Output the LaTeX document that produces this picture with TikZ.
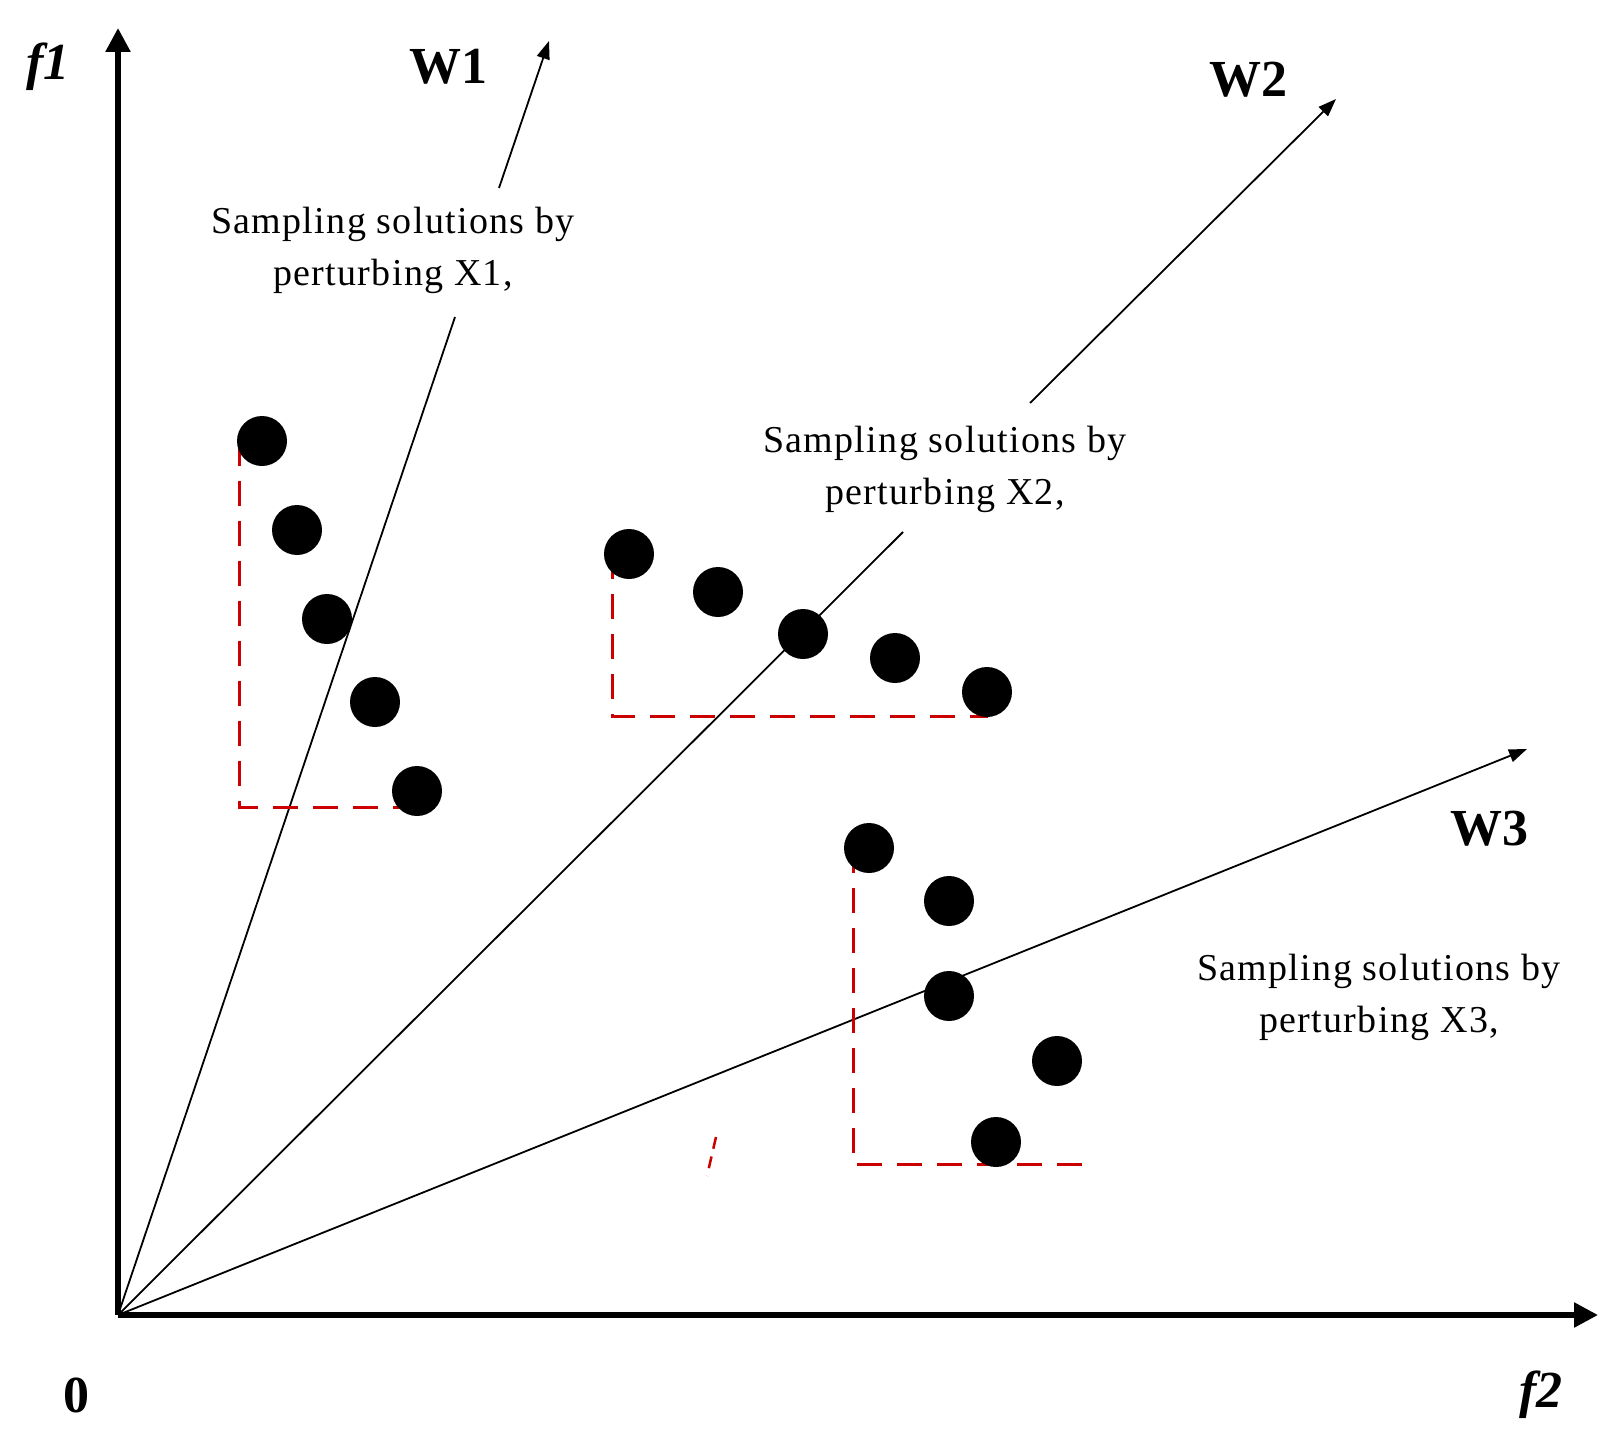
\documentclass[tikz,border=0pt]{standalone}
\usepackage{fontspec}
\setmainfont{Liberation Serif}
\newfontfamily\sampfont[LetterSpace=3.5]{Liberation Serif}
\usetikzlibrary{arrows.meta}
\tikzset{
  axisline/.style={line width=5.5pt, -{Triangle[length=24pt,width=24pt]}},
  wline/.style={line width=1.8pt},
  warrow/.style={line width=1.8pt, -{Triangle[length=18pt,width=13pt]}},
  dot/.style={circle, fill=black, minimum size=50pt, inner sep=0pt},
  reddash/.style={draw=red!80!black, line width=3pt, dash pattern=on 25pt off 15pt},
  biglabel/.style={font=\fontsize{52}{52}\selectfont\bfseries, inner sep=0pt},
  axlabel/.style={font=\fontsize{52}{52}\selectfont\bfseries\itshape, inner sep=0pt},
  sampletext/.style={font=\sampfont\fontsize{38}{52}\selectfont, align=center, inner sep=0pt}
}
\begin{document}
\begin{tikzpicture}[x=1pt,y=-1pt]
\useasboundingbox (0,0) rectangle (1614,1450);
% axes
\coordinate (O) at (118,1315);
\coordinate (f1tip) at (118,28);
\coordinate (f2tip) at (1598,1315);
\draw[axisline] (O) -- (f1tip);
\draw[axisline] (O) -- (f2tip);
\node[axlabel] (f1) at (48,67) {f1};
\node[axlabel] (f2) at (1541,1395) {f2};
\node[biglabel] (zero) at (76,1395) {0};
% direction vectors
\coordinate (w1a) at (455,317);
\coordinate (w1b) at (499,188);
\coordinate (w1tip) at (549,41);
\coordinate (w2a) at (903,532);
\coordinate (w2b) at (1030,403);
\coordinate (w2tip) at (1336,99);
\coordinate (w3tip) at (1527,749);
\draw[wline] (O) -- (w1a);
\draw[warrow] (w1b) -- (w1tip);
\draw[wline] (O) -- (w2a);
\draw[warrow] (w2b) -- (w2tip);
\draw[warrow] (O) -- (w3tip);
\node[biglabel] (W1) at (448,67) {W1};
\node[biglabel] (W2) at (1248,80) {W2};
\node[biglabel] (W3) at (1489,829) {W3};
% texts
\node[sampletext] (t1) at (393,250) {Sampling solutions by\\perturbing X1,};
\node[sampletext] (t2) at (945,469) {Sampling solutions by\\perturbing X2,};
\node[sampletext] (t3) at (1379,997) {Sampling solutions by\\perturbing X3,};
% red dashed corners
\coordinate (r1a) at (239,441);
\coordinate (r1b) at (239,807);
\coordinate (r1c) at (405,807);
\coordinate (r2a) at (612,554);
\coordinate (r2b) at (612,716);
\coordinate (r2c) at (988,716);
\coordinate (r3a) at (853,848);
\coordinate (r3b) at (853,1164);
\coordinate (r3c) at (1088,1164);
\coordinate (s1) at (716,1137);
\coordinate (s2) at (707,1176);
\draw[reddash] (r1a) -- (r1b) -- (r1c);
\draw[reddash] (r2a) -- (r2b) -- (r2c);
\draw[reddash] (r3a) -- (r3b) -- (r3c);
\draw[draw=red!80!black, line width=2.5pt, dash pattern=on 12pt off 8pt] (s1) -- (s2);
% dots
\node[dot] (a1) at (262,441) {};
\node[dot] (a2) at (297,530) {};
\node[dot] (a3) at (327,619) {};
\node[dot] (a4) at (375,702) {};
\node[dot] (a5) at (417,791) {};
\node[dot] (b1) at (629,554) {};
\node[dot] (b2) at (718,592) {};
\node[dot] (b3) at (803,634) {};
\node[dot] (b4) at (895,658) {};
\node[dot] (b5) at (987,692) {};
\node[dot] (c1) at (869,848) {};
\node[dot] (c2) at (949,901) {};
\node[dot] (c3) at (949,996) {};
\node[dot] (c4) at (1057,1061) {};
\node[dot] (c5) at (996,1142) {};
\end{tikzpicture}
\end{document}
